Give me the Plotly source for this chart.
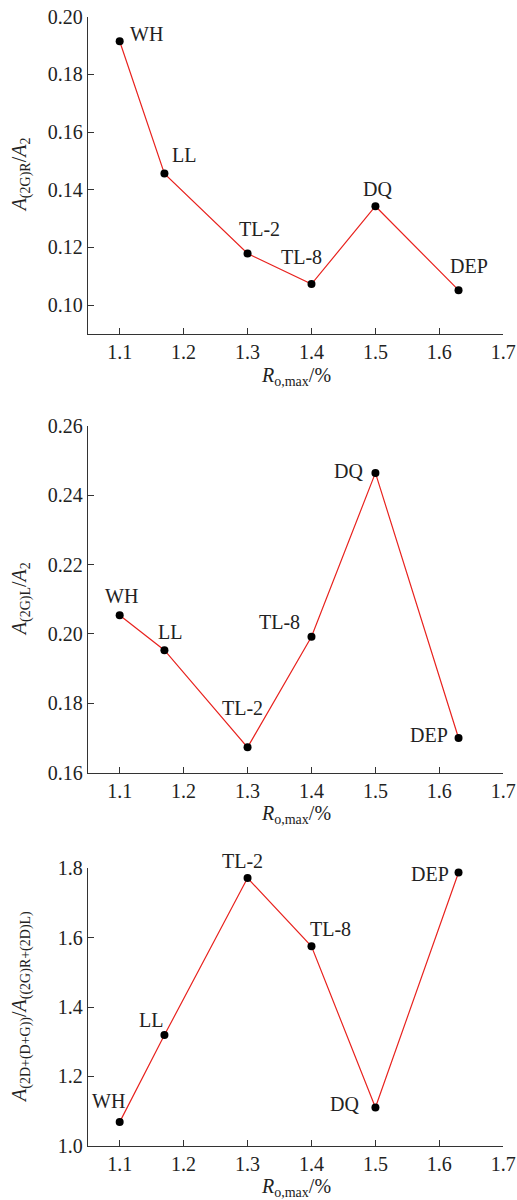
import plotly.graph_objects as go

# ---- data ----
samples = ["WH", "LL", "TL-2", "TL-8", "DQ", "DEP"]
ro_max = [1.10, 1.17, 1.30, 1.40, 1.50, 1.63]
ratio_2gr = [0.1915, 0.1456, 0.1179, 0.1073, 0.1343, 0.1052]
ratio_2gl = [0.2054, 0.1953, 0.1673, 0.1992, 0.2464, 0.1700]
ratio_d_r = [1.068, 1.319, 1.772, 1.575, 1.110, 1.788]

x_ticks = [1.1, 1.2, 1.3, 1.4, 1.5, 1.6, 1.7]
y1_ticks = [0.10, 0.12, 0.14, 0.16, 0.18, 0.20]
y2_ticks = [0.16, 0.18, 0.20, 0.22, 0.24, 0.26]
y3_ticks = [1.0, 1.2, 1.4, 1.6, 1.8]

y_titles = [
    "<i>A</i><sub>(2G)R</sub>/<i>A</i><sub>2</sub>",
    "<i>A</i><sub>(2G)L</sub>/<i>A</i><sub>2</sub>",
    "<i>A</i><sub>(2D+(D+G))</sub>/<i>A</i><sub>((2G)R+(2D)L)</sub>",
]
x_title = "<i>R</i><sub>o,max</sub>/%"

# label offsets (pixels) per panel, per sample
offsets = [
    [(27, 7), (20, 19), (12, 25), (-10, 27), (2, 17), (10, 24)],
    [(2, 19), (6, 18), (-5, 39), (-32, 15), (-27, 2), (-30, 3)],
    [(-11, 21), (-13, 15), (-5, 17), (19, 17), (-31, 4), (-29, -2)],
]

W, H = 517, 1200
FONT = "Liberation Serif"
TXT = "#222222"
AX = "#333333"
x0, x1 = 87.7, 503.3
panels = [
    (16.7, 334.0, ratio_2gr, y1_ticks, [0.09, 0.20], 2),
    (425.7, 772.7, ratio_2gl, y2_ticks, [0.16, 0.26], 2),
    (868.3, 1145.7, ratio_d_r, y3_ticks, [1.0, 1.8], 1),
]

fig = go.Figure()
annotations = []
for i, (top, bot, vals, yt, yr, dec) in enumerate(panels):
    n = "" if i == 0 else str(i + 1)
    fig.add_trace(go.Scatter(
        x=ro_max, y=vals, mode="lines+markers",
        line=dict(color="#e8231f", width=1.2),
        marker=dict(color="black", size=8),
        xaxis="x" + n, yaxis="y" + n, showlegend=False, cliponaxis=False,
    ))
    axis_common = dict(
        showline=True, linecolor=AX, linewidth=1, ticks="inside", ticklen=6,
        tickcolor=AX, tickwidth=1, showgrid=False, zeroline=False,
        tickfont=dict(family=FONT, size=20, color=TXT), automargin=False,
    )
    fig.update_layout(**{
        "xaxis" + n: dict(domain=[x0 / W, x1 / W], range=[1.05, 1.7],
                          tickvals=x_ticks, ticktext=[f"{v:.1f}" for v in x_ticks],
                          anchor="y" + n, **axis_common),
        "yaxis" + n: dict(domain=[1 - bot / H, 1 - top / H], range=yr,
                          tickvals=yt, ticktext=[f"{v:.{dec}f}" for v in yt],
                          anchor="x" + n, **axis_common),
    })
    for s, xv, yv, (dx, dy) in zip(samples, ro_max, vals, offsets[i]):
        annotations.append(dict(
            x=xv, y=yv, xref="x" + n, yref="y" + n, text=s, showarrow=False,
            xanchor="center", yanchor="middle",
            xshift=dx, yshift=dy, font=dict(family=FONT, size=20, color=TXT),
        ))
    # axis titles
    annotations.append(dict(
        x=(x0 + x1) / 2 / W, y=1 - (bot + 42) / H, xref="paper", yref="paper",
        xanchor="center", yanchor="middle",
        text=x_title, showarrow=False, font=dict(family=FONT, size=20, color=TXT),
    ))
    annotations.append(dict(
        x=21 / W, y=1 - (top + bot) / 2 / H, xref="paper", yref="paper",
        xanchor="center", yanchor="middle",
        text=y_titles[i], textangle=-90, showarrow=False,
        font=dict(family=FONT, size=20, color=TXT),
    ))

fig.update_layout(
    width=W, height=H, margin=dict(l=0, r=0, t=0, b=0),
    paper_bgcolor="white", plot_bgcolor="white",
    annotations=annotations,
)
fig.write_html("out.html", config={"displayModeBar": False},
               post_script="document.body.style.margin='0';")
